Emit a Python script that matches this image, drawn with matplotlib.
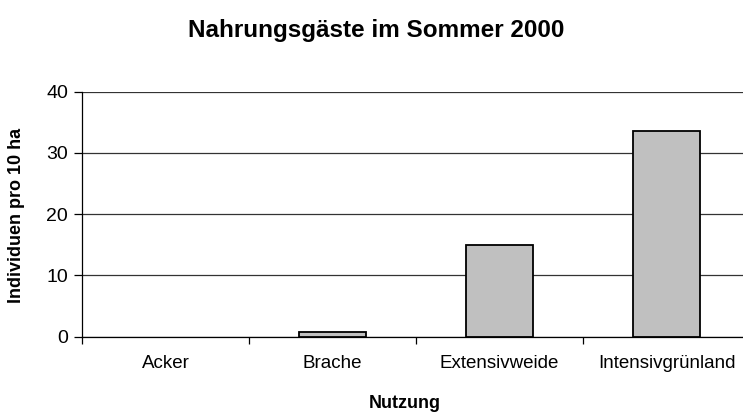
import matplotlib
matplotlib.use("Agg")
import matplotlib.pyplot as plt
import numpy as np

categories = ["Acker", "Brache", "Extensivweide", "Intensivgrünland"]
values = [0.0, 0.8, 15.0, 33.6]
yticks = [0, 10, 20, 30, 40]

plt.rcParams['font.family'] = ['Liberation Sans', 'DejaVu Sans']

W, H = 743, 415
fig = plt.figure(figsize=(W / 100, H / 100), dpi=100)
left, right, bottom, top = 82, 750, 336.7, 91.7
ax = fig.add_axes([left / W, (H - bottom) / H, (right - left) / W, (bottom - top) / H])

x = np.arange(len(categories))
bars = ax.bar(x, values, width=0.4, color="#C0C0C0", edgecolor="black", linewidth=1.3, zorder=3)
for b, v in zip(bars, values):
    if v == 0:
        b.set_linewidth(0)

ax.set_xlim(-0.5, len(categories) - 0.5)
ax.set_ylim(0, 40)
ax.set_yticks(yticks)
ax.set_yticklabels([str(t) for t in yticks], fontsize=14)
ax.yaxis.grid(True, color="#333333", linewidth=0.9, zorder=0)
ax.set_axisbelow(True)

ax.set_xticks(x)
ax.set_xticklabels(categories, fontsize=13.5)
ax.tick_params(axis='x', which='major', length=0, pad=13)
ax.set_xticks(np.arange(-0.5, len(categories) + 0.5, 1), minor=True)
ax.tick_params(axis='x', which='minor', length=5, width=0.9, direction='out')
ax.tick_params(axis='y', length=6, width=0.9, direction='out', pad=4)

for s in ['top', 'right']:
    ax.spines[s].set_visible(False)
ax.spines['left'].set_linewidth(0.9)
ax.spines['bottom'].set_linewidth(0.9)

fig.text(376 / W, 1 - 30 / H, "Nahrungsgäste im Sommer 2000", fontsize=17.5,
         fontweight='bold', ha='center', va='center')
fig.text(405 / W, 1 - 403 / H, "Nutzung", fontsize=13, fontweight='bold',
         ha='center', va='center')
fig.text(17 / W, 1 - 215 / H, "Individuen pro 10 ha", fontsize=13, fontweight='bold',
         ha='center', va='center', rotation=90)

fig.savefig("out.png", dpi=100)
